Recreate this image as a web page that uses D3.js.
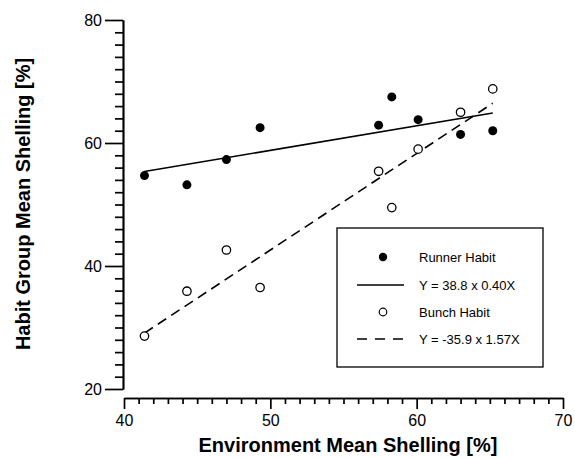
<!DOCTYPE html>
<html><head><meta charset="utf-8">
<script src="https://cdn.jsdelivr.net/npm/d3@7"></script>
<style>
html,body{margin:0;padding:0;background:#fff;}
svg{display:block;font-family:Arial,"Liberation Sans",Helvetica,sans-serif;}
</style></head>
<body><svg id="c" width="575" height="458"></svg>
<script>
const envMean = [41.4, 44.3, 47.0, 49.3, 57.4, 58.3, 60.1, 63.0, 65.2];
const runner  = [54.7, 53.2, 57.3, 62.5, 62.9, 67.5, 63.8, 61.4, 62.0];
const bunch   = [28.6, 35.9, 42.6, 36.5, 55.4, 49.5, 59.0, 65.0, 68.8];
const runnerFit = {intercept: 38.8, slope: 0.40};
const bunchFit  = {intercept: -35.9, slope: 1.57};
const xTicks = [40, 50, 60, 70];
const yTicks = [20, 40, 60, 80];
const legendLabels = ["Runner Habit", "Y = 38.8 x 0.40X", "Bunch Habit", "Y = -35.9 x 1.57X"];

const svg = d3.select("#c");
const x = d3.scaleLinear().domain([40, 70]).range([124, 563]);
const y = d3.scaleLinear().domain([20, 80]).range([389, 20]);
const axY = 123, axX = 398;

// minor ticks
const gy = svg.append("g").attr("transform", `translate(${axY},0)`);
gy.call(d3.axisLeft(y).tickValues(y.ticks(30).filter(v => !yTicks.includes(v))).tickSize(8).tickSizeOuter(0).tickFormat(""));
gy.append("g").call(d3.axisLeft(y).tickValues(yTicks).tickSize(18).tickSizeOuter(0).tickPadding(3).tickFormat(d3.format("d")));
gy.selectAll("path,line").attr("stroke", "#000").attr("stroke-width", 1.7);
gy.selectAll("text").attr("font-size", 16).attr("fill", "#000").attr("font-family", "Arial,'Liberation Sans',sans-serif");

const gx = svg.append("g").attr("transform", `translate(0,${axX})`);
gx.call(d3.axisBottom(x).tickValues(x.ticks(30).filter(v => !xTicks.includes(v))).tickSize(6).tickSizeOuter(0).tickFormat(""));
gx.append("g").call(d3.axisBottom(x).tickValues(xTicks).tickSize(11).tickSizeOuter(0).tickPadding(6).tickFormat(d3.format("d")));
gx.selectAll("path,line").attr("stroke", "#000").attr("stroke-width", 1.7);
gx.selectAll("text").attr("font-size", 16).attr("fill", "#000").attr("font-family", "Arial,'Liberation Sans',sans-serif");

// axis titles
svg.append("text").attr("x", 348).attr("y", 452).attr("text-anchor", "middle")
  .attr("font-size", 20).attr("font-weight", "bold").text("Environment Mean Shelling [%]");
svg.append("text").attr("transform", "translate(30,204) rotate(-90)").attr("text-anchor", "middle")
  .attr("font-size", 20).attr("font-weight", "bold").text("Habit Group Mean Shelling [%]");

// regression lines
const xr = d3.extent(envMean);
const line = d3.line().x(d => x(d[0])).y(d => y(d[1]));
svg.append("path").datum(xr.map(v => [v, runnerFit.intercept + runnerFit.slope * v]))
  .attr("d", line).attr("fill", "none").attr("stroke", "#000").attr("stroke-width", 1.6);
svg.append("path").datum(xr.map(v => [v, bunchFit.intercept + bunchFit.slope * v]))
  .attr("d", line).attr("fill", "none").attr("stroke", "#000").attr("stroke-width", 1.6)
  .attr("stroke-dasharray", "10,6");

// points
svg.append("g").selectAll("circle").data(envMean.map((v, i) => [v, bunch[i]])).join("circle")
  .attr("cx", d => x(d[0])).attr("cy", d => y(d[1])).attr("r", 4.2)
  .attr("fill", "#fff").attr("stroke", "#000").attr("stroke-width", 1.3);
svg.append("g").selectAll("circle").data(envMean.map((v, i) => [v, runner[i]])).join("circle")
  .attr("cx", d => x(d[0])).attr("cy", d => y(d[1])).attr("r", 4.5).attr("fill", "#000");

// legend
const lg = svg.append("g");
lg.append("rect").attr("x", 337).attr("y", 228).attr("width", 206).attr("height", 139)
  .attr("fill", "#fff").attr("stroke", "#000").attr("stroke-width", 1.3);
const rows = [257, 285, 312, 339];
lg.append("circle").attr("cx", 383).attr("cy", rows[0]).attr("r", 4.2).attr("fill", "#000");
lg.append("line").attr("x1", 357).attr("x2", 404).attr("y1", rows[1]).attr("y2", rows[1]).attr("stroke", "#000").attr("stroke-width", 1.5);
lg.append("circle").attr("cx", 383).attr("cy", rows[2]).attr("r", 3.8).attr("fill", "#fff").attr("stroke", "#000").attr("stroke-width", 1.2);
lg.append("line").attr("x1", 357).attr("x2", 404).attr("y1", rows[3]).attr("y2", rows[3]).attr("stroke", "#000").attr("stroke-width", 1.5).attr("stroke-dasharray", "10,8");
lg.selectAll("text.l").data(legendLabels).join("text").attr("class", "l")
  .attr("x", 419).attr("y", (d, i) => rows[i]).attr("dy", "0.35em")
  .attr("font-size", 13).attr("fill", "#000").text(d => d);
</script></body></html>
